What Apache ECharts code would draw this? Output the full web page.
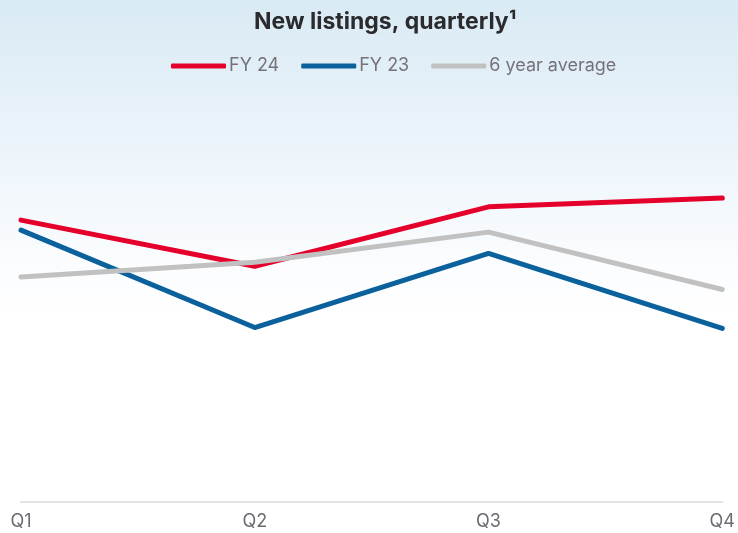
<!DOCTYPE html>
<html>
<head>
<meta charset="utf-8">
<script src="https://cdn.jsdelivr.net/npm/echarts@6/dist/echarts.min.js"></script>
<style>
  html, body { margin: 0; padding: 0; }
  #container { width: 738px; height: 533px; }
</style>
</head>
<body>
<div id="container"></div>
<script>
var dom = document.getElementById('container');
var myChart = echarts.init(dom, null, { renderer: 'canvas' });

// data (no y scale shown, arbitrary units)
var quarters = ['Q1', 'Q2', 'Q3', 'Q4'];
var fy24 = [70.3, 58.8, 73.6, 75.8];
var fy23 = [67.8, 43.5, 62.0, 43.3];
var sixYearAvg = [56.1, 59.8, 67.3, 53.0];

var font = 'Inter, "Open Sans", sans-serif';

function lineSeries(name, data, color) {
    return {
        name: name,
        type: 'line',
        data: data,
        symbol: 'none',
        lineStyle: { width: 5, color: color, cap: 'round', join: 'round' },
        itemStyle: { color: color }
    };
}

var option = {
    backgroundColor: {
        type: 'linear', x: 0, y: 0, x2: 0, y2: 1,
        colorStops: [
            { offset: 0, color: '#d9eaf4' },
            { offset: 0.25, color: '#eaf3fa' },
            { offset: 0.48, color: '#fafcfe' },
            { offset: 0.6, color: '#ffffff' },
            { offset: 1, color: '#ffffff' }
        ]
    },
    title: {
        text: 'New listings, quarterly\u00b9',
        left: 249,
        top: 6,
        textStyle: { fontFamily: font, fontWeight: 'bold', fontSize: 23, color: '#2b2b2e' }
    },
    legend: {
        top: 52,
        left: 166,
        itemWidth: 55,
        itemHeight: 5,
        itemGap: 22,
        icon: 'roundRect',
        textStyle: { fontFamily: font, fontSize: 18, color: '#76727a', padding: [0, 0, 0, -2] },
        data: ['FY 24', 'FY 23', '6 year average']
    },
    grid: { left: 21, right: 15, top: 101, bottom: 31, containLabel: false },
    xAxis: {
        type: 'category',
        data: quarters,
        boundaryGap: false,
        axisLine: { lineStyle: { color: '#e3e3e3', width: 2 } },
        axisTick: { show: false },
        axisLabel: { fontFamily: font, fontSize: 18, color: '#6e6a72', margin: 11 }
    },
    yAxis: {
        type: 'value',
        min: 0,
        max: 100,
        show: false,
        splitLine: { show: false }
    },
    series: [
        lineSeries('FY 24', fy24, '#e4002b'),
        lineSeries('FY 23', fy23, '#0a619c'),
        lineSeries('6 year average', sixYearAvg, '#c1c1c1')
    ]
};

myChart.setOption(option);
window.addEventListener('resize', myChart.resize);
</script>
</body>
</html>
